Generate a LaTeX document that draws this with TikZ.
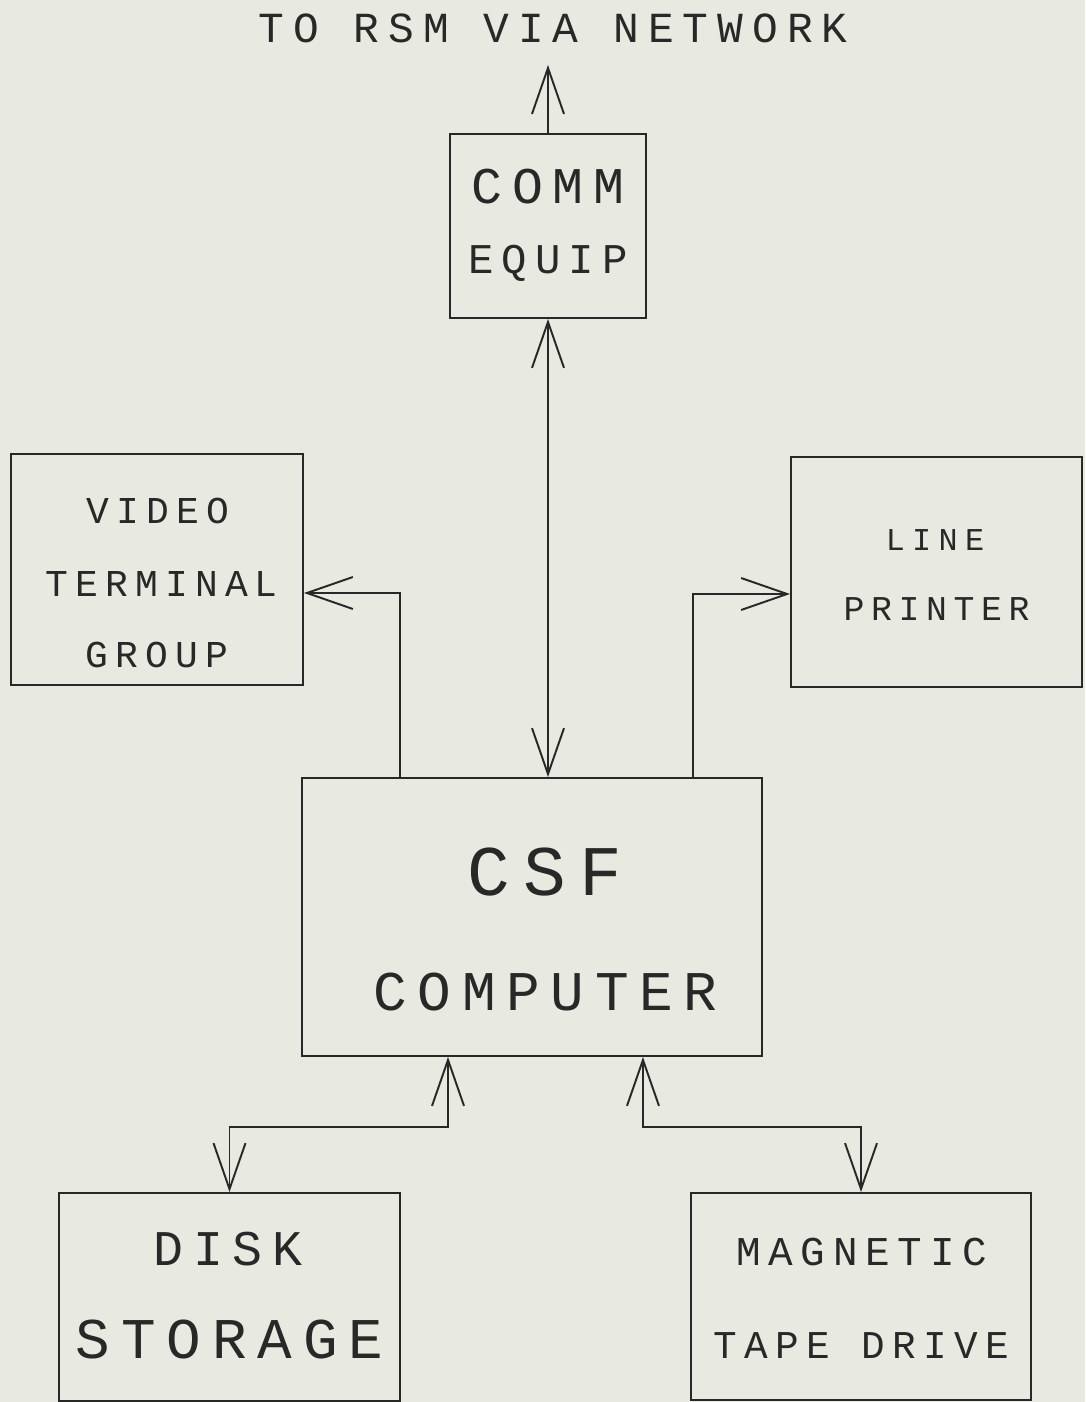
\documentclass[tikz,border=0pt]{standalone}
\usepackage{fontspec}
\newfontfamily\plotfont[LetterSpace=19]{Liberation Mono}
\usetikzlibrary{arrows.meta}
\definecolor{paper}{RGB}{232,233,224}
\definecolor{ink}{RGB}{40,40,40}
\tikzset{
box/.style={draw=ink,rectangle,line width=1.1pt,inner sep=0pt},
lbl/.style={inner sep=0pt,anchor=base,text=ink},
arr/.style={draw=ink,line width=1.1pt,-{Straight Barb[length=0.92cm,width=0.64cm]}},
arrs/.style={draw=ink,line width=1.1pt,{Straight Barb[length=0.92cm,width=0.64cm]}-{Straight Barb[length=0.92cm,width=0.64cm]}}
}
\begin{document}
\begin{tikzpicture}[x=0.02cm,y=-0.02cm]
\useasboundingbox (0,0) rectangle (1085,1402);
\fill[paper] (0,0) rectangle (1085,1402);

\node[box,minimum width=3.92cm,minimum height=3.68cm](comm) at (548,226){};

\node[box,minimum width=5.84cm,minimum height=4.62cm](video) at (157,569.5){};

\node[box,minimum width=5.82cm,minimum height=4.6cm](printer) at (936.5,572){};

\node[box,minimum width=9.2cm,minimum height=5.56cm](csf) at (532,917){};

\node[box,minimum width=6.82cm,minimum height=4.16cm](disk) at (229.5,1297){};

\node[box,minimum width=6.8cm,minimum height=4.14cm](tape) at (861,1296.5){};

\coordinate (net) at (548,65);

% texts
\node[lbl,font={\fontsize{24.4}{24.4}\plotfont\addfontfeatures{LetterSpace=21}}](title) at (553,43){TO RSM VIA NETWORK};
\node[lbl,font={\fontsize{29.3}{29.3}\plotfont}](commtop) at (548,204){COMM};
\node[lbl,font={\fontsize{24.1}{24.1}\plotfont}](commlow) at (548,273){EQUIP};
\node[lbl,font={\fontsize{21.6}{21.6}\plotfont}](videotop) at (158,523.5){VIDEO};
\node[lbl,font={\fontsize{21.6}{21.6}\plotfont}](videomid) at (161.5,596.5){TERMINAL};
\node[lbl,font={\fontsize{21.6}{21.6}\plotfont}](videolow) at (157,667.5){GROUP};
\node[lbl,font={\fontsize{18.1}{18.1}\plotfont\addfontfeatures{LetterSpace=23}}](printertop) at (935,550.7){LINE};
\node[lbl,font={\fontsize{19.8}{19.8}\plotfont}](printerlow) at (936.5,620){PRINTER};
\node[lbl,font={\fontsize{40.5}{40.5}\plotfont}](csftop) at (545,895){CSF};
\node[lbl,font={\fontsize{31.9}{31.9}\plotfont}](csflow) at (545.5,1010.7){COMPUTER};
\node[lbl,font={\fontsize{28.4}{28.4}\plotfont}](disktop) at (228,1265){DISK};
\node[lbl,font={\fontsize{32.8}{32.8}\plotfont}](disklow) at (229.5,1358){STORAGE};
\node[lbl,font={\fontsize{23.3}{23.3}\plotfont}](tapetop) at (861.5,1265){MAGNETIC};
\node[lbl,font={\fontsize{22.4}{22.4}\plotfont}](tapelow) at (861.5,1358){TAPE DRIVE};

\draw[arr] (comm.north) -- (net);
\draw[arrs] (comm.south) -- (comm.south |- csf.north);
\draw[arr] ([xshift=-2.64cm]csf.north) |- ([yshift=-0.47cm]video.east);
\draw[arr] ([xshift=3.22cm]csf.north) |- ([yshift=-0.44cm]printer.west);
\draw[arrs] ([xshift=-1.68cm]csf.south) -- ++(0,70) -| (disk.north);
\draw[arrs] ([xshift=2.22cm]csf.south) -- ++(0,70) -| (tape.north);
\end{tikzpicture}
\end{document}
